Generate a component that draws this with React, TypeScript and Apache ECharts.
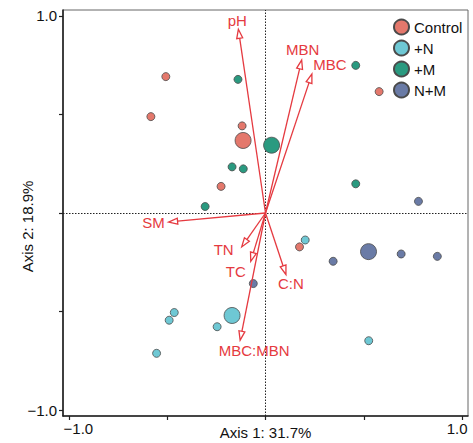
import React, { useEffect, useRef } from "react";
import * as echarts from "echarts";

// ---- Data ----
const groupNames = ["Control", "+N", "+M", "N+M"];
const controlX = [-0.507, -0.583, -0.119, -0.226, 0.578, 0.173];
const controlY = [0.692, 0.489, 0.442, 0.135, 0.616, -0.172];
const plusNX = [0.202, 0.525, -0.464, -0.49, -0.246, -0.554];
const plusNY = [-0.137, -0.648, -0.505, -0.544, -0.577, -0.712];
const plusMX = [-0.14, -0.17, -0.113, -0.307, 0.459, 0.459];
const plusMY = [0.678, 0.234, 0.224, 0.033, 0.749, 0.148];
const nmX = [0.778, 0.344, 0.69, 0.874, -0.062];
const nmY = [0.059, -0.245, -0.208, -0.22, -0.358];
const controlCentroid = [-0.114, 0.368];
const plusNCentroid = [-0.17, -0.52];
const plusMCentroid = [0.031, 0.344];
const nmCentroid = [0.524, -0.196];

const vecNames = ["pH", "MBN", "MBC", "SM", "TN", "TC", "C:N", "MBC:MBN"];
const vecX = [-0.138, 0.184, 0.236, -0.493, -0.121, -0.075, 0.104, -0.129];
const vecY = [0.932, 0.776, 0.705, -0.046, -0.172, -0.245, -0.312, -0.645];

const axisTicks = [-1, -0.5, 0, 0.5, 1];
const axisLabels = [-1, 1];
const xTitle = "Axis 1: 31.7%";
const yTitle = "Axis 2: 18.9%";

// ---- Styles ----
const COLORS = ["#E4786C", "#6EC8D4", "#2A9A80", "#6A7BA6"];
const RED = "#E53A40";
const FONT = "Liberation Sans, Arial, Helvetica, sans-serif";
// label offsets (px) relative to arrow tips, per vector
const LABEL_OFFSETS: Record<string, [number, number]> = {
  pH: [-1, -9],
  MBN: [1, -11],
  MBC: [18, -10],
  SM: [-15, 0],
  TN: [-18, 3],
  TC: [-15, 10],
  "C:N": [5, 9],
  "MBC:MBN": [14, 10],
};

export default function App() {
  const ref = useRef<HTMLDivElement>(null);
  useEffect(() => {
    if (!ref.current) return;
    const chart = echarts.init(ref.current, null, { renderer: "svg" });

    const groups = [
      [controlX, controlY, controlCentroid],
      [plusNX, plusNY, plusNCentroid],
      [plusMX, plusMY, plusMCentroid],
      [nmX, nmY, nmCentroid],
    ] as const;

    const scatterSeries = groups.map((g, i) => {
      const [xs, ys, c] = g;
      const pts: any[] = xs.map((x, k) => ({ value: [x, ys[k]], symbolSize: 8 }));
      pts.push({ value: [c[0], c[1]], symbolSize: 16 });
      return {
        name: groupNames[i],
        type: "scatter",
        data: pts,
        symbol: "circle",
        itemStyle: { color: COLORS[i], borderColor: "#4a4a4a", borderWidth: 0.8, opacity: 1 },
        z: 3,
        ...(i === 0
          ? {
              markLine: {
                silent: true,
                symbol: "none",
                label: { show: false },
                lineStyle: { color: "#222", width: 1, type: [1.5, 1.5] },
                data: [{ xAxis: 0 }, { yAxis: 0 }],
                z: 1,
              },
            }
          : {}),
      };
    });

    const arrowSeries = {
      type: "custom",
      name: "vectors",
      z: 5,
      data: vecNames.map((n, i) => [vecX[i], vecY[i], n]),
      renderItem: (params: any, api: any) => {
        const x = api.value(0);
        const y = api.value(1);
        const name = vecNames[params.dataIndex];
        const o = api.coord([0, 0]);
        const t = api.coord([x, y]);
        const dx = t[0] - o[0];
        const dy = t[1] - o[1];
        const L = Math.hypot(dx, dy);
        const ux = dx / L;
        const uy = dy / L;
        const len = 9;
        const hw = 3;
        const bx = t[0] - ux * len;
        const by = t[1] - uy * len;
        const px = -uy;
        const py = ux;
        const off = LABEL_OFFSETS[name] || [0, 0];
        return {
          type: "group",
          children: [
            {
              type: "line",
              shape: { x1: o[0], y1: o[1], x2: bx, y2: by },
              style: { stroke: RED, lineWidth: 1.3 },
            },
            {
              type: "polygon",
              shape: {
                points: [
                  [t[0], t[1]],
                  [bx + px * hw, by + py * hw],
                  [bx - px * hw, by - py * hw],
                ],
              },
              style: { fill: "#fff", stroke: RED, lineWidth: 1.3 },
            },
            {
              type: "text",
              x: t[0] + off[0],
              y: t[1] + off[1],
              style: {
                text: name,
                fill: RED,
                font: `15px ${FONT}`,
                align: "center",
                verticalAlign: "middle",
              },
            },
          ],
        };
      },
    };

    const axisCommon = {
      type: "value",
      min: -1.03,
      max: 1.03,
      splitLine: { show: false },
      axisLine: { show: true, onZero: false, lineStyle: { color: "#222", width: 1.6 } },
      axisTick: {
        show: true,
        customValues: axisTicks,
        length: 4,
        lineStyle: { color: "#222", width: 1.2 },
      },
    };

    chart.setOption({
      animation: false,
      backgroundColor: "#fff",
      textStyle: { fontFamily: FONT },
      grid: {
        left: 63,
        right: 5,
        top: 10,
        bottom: 27,
        show: true,
        borderColor: "#666",
        borderWidth: 1,
        containLabel: false,
        outerBoundsMode: "none",
      },
      legend: {
        orient: "vertical",
        left: 388,
        top: 13.5,
        itemWidth: 15,
        itemHeight: 15,
        itemGap: 4,
        icon: "circle",
        data: groupNames,
        textStyle: { fontSize: 15, color: "#111", fontFamily: FONT },
      },
      xAxis: {
        ...axisCommon,
        name: xTitle,
        nameLocation: "middle",
        nameGap: 9,
        nameMoveOverlap: false,
        nameTextStyle: { fontSize: 15, color: "#111", fontFamily: FONT },
        axisLabel: {
          customValues: axisLabels,
          margin: 5,
          fontSize: 15,
          color: "#111",
          fontFamily: FONT,
          formatter: (v: number) => (v < 0 ? "{l|−1.0}" : "{r|1.0}"),
          rich: {
            l: { fontSize: 15, color: "#111", fontFamily: FONT, padding: [0, 0, 0, 19] },
            r: { fontSize: 15, color: "#111", fontFamily: FONT, padding: [0, 10, 0, 0] },
          },
        },
      },
      yAxis: {
        ...axisCommon,
        axisLabel: {
          customValues: axisLabels,
          margin: 6,
          fontSize: 15,
          color: "#111",
          fontFamily: FONT,
          formatter: (v: number) => (v < 0 ? "−1.0" : "1.0"),
        },
      },
      graphic: [
        {
          type: "text",
          x: 27.5,
          y: 226.5,
          rotation: Math.PI / 2,
          style: {
            text: yTitle,
            fill: "#111",
            font: `15px ${FONT}`,
            align: "center",
            verticalAlign: "middle",
          },
        },
      ],
      series: [...scatterSeries, arrowSeries],
    });

    return () => chart.dispose();
  }, []);

  return (
    <div
      ref={ref}
      style={{ position: "fixed", left: 0, top: 0, width: 473, height: 443 }}
    />
  );
}
